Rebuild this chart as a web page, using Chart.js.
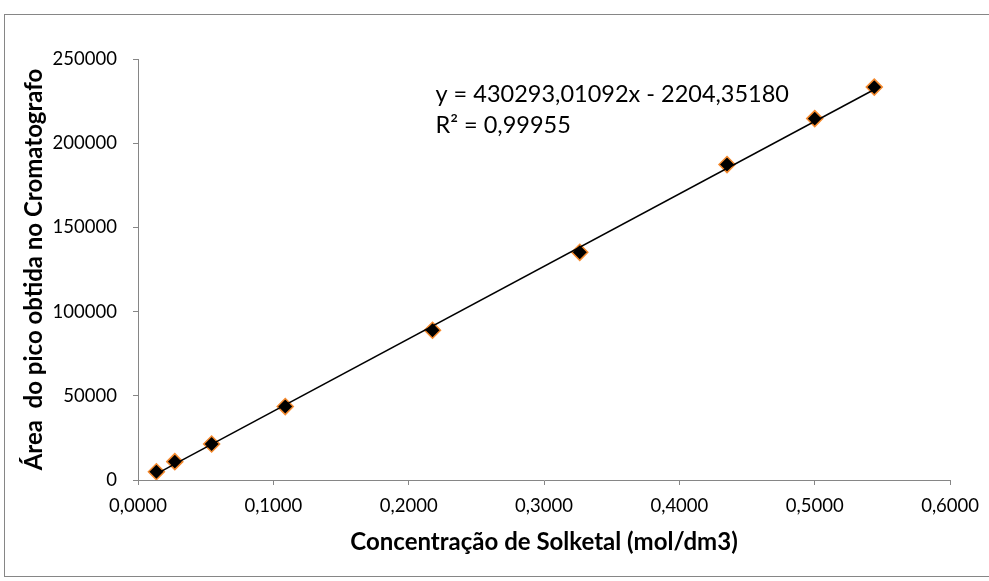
<!DOCTYPE html>
<html>
<head>
<meta charset="utf-8">
<script src="https://cdn.jsdelivr.net/npm/chart.js@4/dist/chart.umd.min.js"></script>
<style>
  html, body { margin: 0; padding: 0; background: #ffffff; }
  #wrap { width: 989px; height: 581px; position: relative; }
</style>
</head>
<body>
<div id="wrap"><canvas id="c" width="989" height="581"></canvas></div>
<script>
// Calibration standards: solketal concentration vs. chromatogram peak area
const concentracao = [0.0136, 0.0272, 0.0544, 0.1088, 0.2176, 0.3264, 0.4352, 0.5000, 0.5440];
const areaPico = [4900, 10900, 21400, 43600, 88900, 135200, 187300, 214600, 233300];

// Linear fit reported on the chart
const slope = 430293.01092;
const intercept = -2204.35180;
const r2Text = '0,99955';
const equationText = 'y = 430293,01092x - 2204,35180';

const xTickMin = 0, xTickMax = 0.6, xStep = 0.1;
const yTickMin = 0, yTickMax = 250000, yStep = 50000;

const xTitle = 'Concentração de Solketal (mol/dm3)';
const yTitle = 'Área  do pico obtida no Cromatografo';

const pontos = concentracao.map((x, i) => ({ x: x, y: areaPico[i] }));
const xFirst = Math.min(...concentracao);
const xLast = Math.max(...concentracao);
const tendencia = [xFirst, xLast].map(x => ({ x: x, y: slope * x + intercept }));

const AXIS_GREY = '#868686';
const FONT = 'Lato, "Open Sans", sans-serif';

// Outer frame of the chart object and the equation / R² text box
const decor = {
  id: 'decor',
  beforeDraw(chart) {
    const ctx = chart.ctx;
    ctx.save();
    ctx.fillStyle = '#ffffff';
    ctx.fillRect(0, 0, chart.width, chart.height);
    ctx.strokeStyle = AXIS_GREY;
    ctx.lineWidth = 1;
    ctx.strokeRect(4.5, 14.5, chart.width + 10, chart.height - 19);
    ctx.restore();
  },
  afterDatasetsDraw(chart) {
    const ctx = chart.ctx;
    const xs = chart.scales.x, ys = chart.scales.y;
    const left = xs.getPixelForValue(0.2198);
    const base = ys.getPixelForValue(224500);
    ctx.save();
    ctx.fillStyle = '#000000';
    ctx.font = '23.5px ' + FONT;
    ctx.textAlign = 'left';
    ctx.textBaseline = 'alphabetic';
    ctx.fillText(equationText, left, base);
    ctx.fillText('R² = ' + r2Text, left, base + 31);
    ctx.restore();
  }
};

new Chart(document.getElementById('c'), {
  type: 'scatter',
  data: {
    datasets: [
      {
        type: 'line',
        label: 'Linear',
        data: tendencia,
        borderColor: '#000000',
        borderWidth: 1.5,
        pointRadius: 0,
        fill: false,
        order: 0
      },
      {
        label: 'Área',
        data: pontos,
        pointStyle: 'rectRot',
        pointRadius: 8,
        pointHoverRadius: 8,
        backgroundColor: '#000000',
        borderColor: '#F58A2E',
        borderWidth: 1.5,
        order: 1
      }
    ]
  },
  options: {
    responsive: false,
    animation: false,
    events: [],
    layout: { padding: { top: 59, right: 35, left: 0, bottom: 0 } },
    plugins: {
      legend: { display: false },
      tooltip: { enabled: false }
    },
    scales: {
      x: {
        type: 'linear',
        min: xTickMin,
        max: xTickMax,
        afterFit(scale) { scale.height = 101; },
        border: { display: true, color: AXIS_GREY, width: 1 },
        grid: { display: true, drawOnChartArea: false, drawTicks: true, tickLength: 5, color: AXIS_GREY },
        ticks: {
          stepSize: xStep,
          padding: 10,
          color: '#000000',
          font: { family: FONT, size: 18.5 },
          callback: v => Number(v).toFixed(4).replace('.', ',')
        },
        title: {
          display: true,
          text: xTitle,
          color: '#000000',
          font: { family: FONT, size: 24, weight: 'bold' },
          padding: { top: 0, bottom: 24 }
        }
      },
      y: {
        type: 'linear',
        min: yTickMin,
        max: yTickMax,
        afterFit(scale) { scale.width = 138; },
        border: { display: true, color: AXIS_GREY, width: 1 },
        grid: { display: true, drawOnChartArea: false, drawTicks: true, tickLength: 5, color: AXIS_GREY },
        ticks: {
          stepSize: yStep,
          padding: 16,
          color: '#000000',
          font: { family: FONT, size: 18.5 },
          callback: v => String(Math.round(v))
        },
        title: {
          display: true,
          text: yTitle,
          color: '#000000',
          font: { family: FONT, size: 24, weight: 'bold' },
          padding: { top: 20, bottom: 0 }
        }
      }
    }
  },
  plugins: [decor]
});
</script>
</body>
</html>
